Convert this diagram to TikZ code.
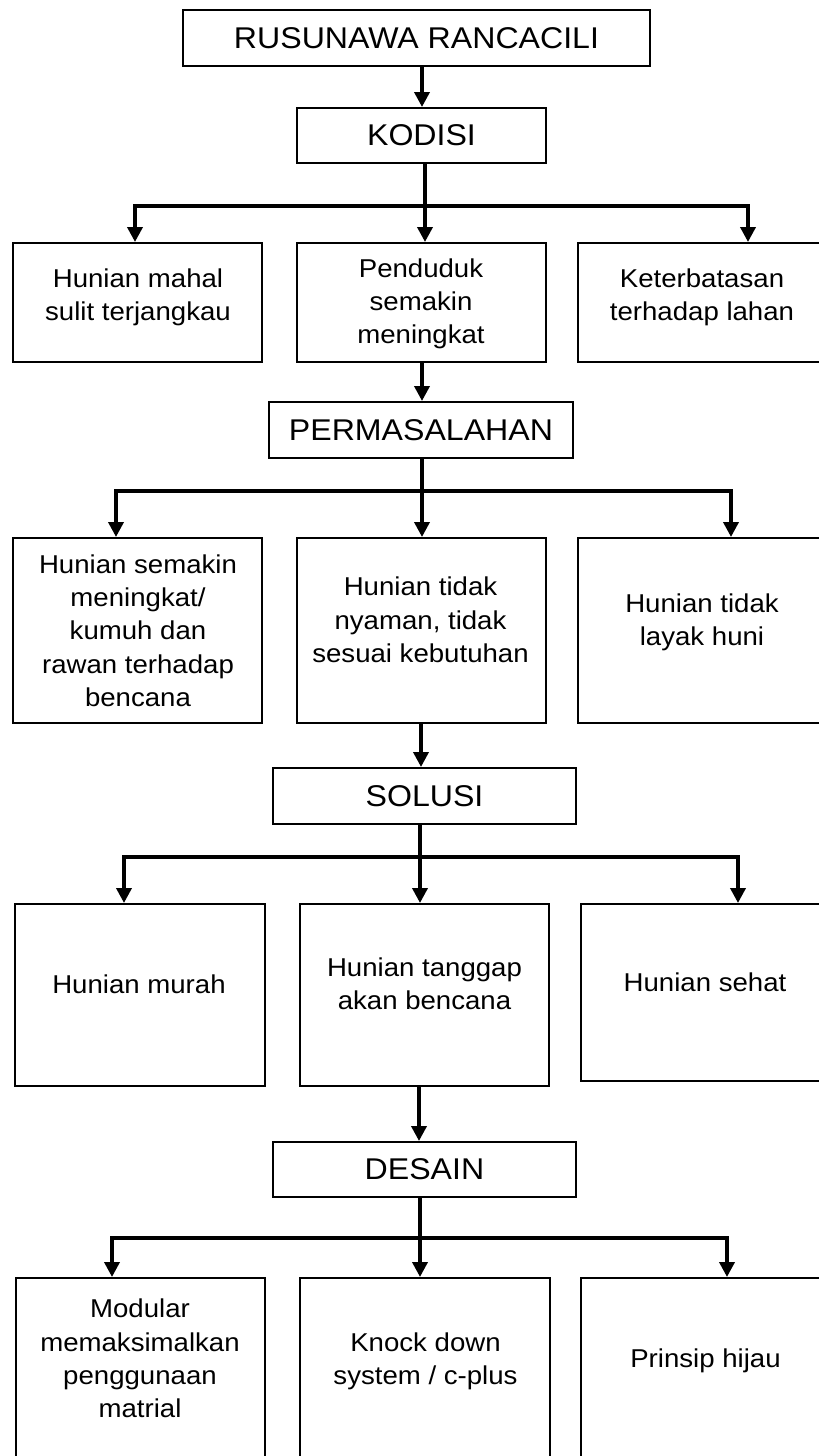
\documentclass[tikz,border=0pt]{standalone}
\usepackage{fontspec}
\setmainfont{Liberation Sans}[FakeStretch=1.07]
\usetikzlibrary{arrows.meta}
\begin{document}
\begin{tikzpicture}[x=1pt,y=-1pt,
  hbox/.style={draw,line width=2pt,rectangle,inner sep=0pt,font=\fontsize{30}{36}\selectfont},
  cbox/.style={draw,line width=2pt,rectangle,inner sep=0pt},
  txt/.style={inner sep=0pt,align=center,font=\fontsize{25.8}{33.3}\selectfont},
  conn/.style={line width=3.6pt,line join=miter},
  arr/.style={line width=3.6pt,line join=miter,-{Triangle[length=15pt,width=15pt]}}]
\useasboundingbox (0,0) rectangle (819,1456);
\clip (0,0) rectangle (819,1456);
\fill[white] (0,0) rectangle (819,1456);

% header boxes
\node[hbox,minimum width=467,minimum height=56] (title) at (416.5,38) {RUSUNAWA RANCACILI};
\node[hbox,minimum width=249,minimum height=55] (kodisi) at (421.5,135.5) {KODISI};
\node[hbox,minimum width=304,minimum height=56] (perm) at (421,430) {PERMASALAHAN};
\node[hbox,minimum width=303,minimum height=56] (solusi) at (424.5,796) {SOLUSI};
\node[hbox,minimum width=303,minimum height=55] (desain) at (424.5,1169.5) {DESAIN};

% row 1
\node[cbox,minimum width=249.5,minimum height=119] (r1l) at (137.25,302.5) {};
\node[cbox,minimum width=249,minimum height=119] (r1m) at (421.5,302.5) {};
\node[cbox,minimum width=251,minimum height=119] (r1r) at (703.5,302.5) {};
\node[txt] (t1l) at (138,297) {Hunian mahal\\sulit terjangkau};
\node[txt] (t1m) at (421,304) {Penduduk\\semakin\\meningkat};
\node[txt] (t1r) at (702,297) {Keterbatasan\\terhadap lahan};

% row 2
\node[cbox,minimum width=249.5,minimum height=185] (r2l) at (137.25,630.5) {};
\node[cbox,minimum width=249,minimum height=185] (r2m) at (421.5,630.5) {};
\node[cbox,minimum width=251,minimum height=185] (r2r) at (703.5,630.5) {};
\node[txt] (t2l) at (138,630.5) {Hunian semakin\\meningkat/\\kumuh dan\\rawan terhadap\\bencana};
\node[txt] (t2m) at (420.5,620) {Hunian tidak\\nyaman, tidak\\sesuai kebutuhan};
\node[txt] (t2r) at (702,622.5) {Hunian tidak\\layak huni};

% row 3
\node[cbox,minimum width=250,minimum height=182] (r3l) at (140,995) {};
\node[cbox,minimum width=249,minimum height=182] (r3m) at (424.5,995) {};
\node[cbox,minimum width=248,minimum height=177] (r3r) at (705,992.5) {};
\node[txt] (t3l) at (139,984) {Hunian murah};
\node[txt] (t3m) at (424.5,984) {Hunian tanggap\\akan bencana};
\node[txt] (t3r) at (705,982) {Hunian sehat};

% row 4
\node[cbox,minimum width=249,minimum height=201] (r4l) at (140.5,1378.5) {};
\node[cbox,minimum width=250,minimum height=201] (r4m) at (425,1378.5) {};
\node[cbox,minimum width=248,minimum height=201] (r4r) at (705,1378.5) {};
\node[txt] (t4l) at (140,1358.5) {Modular\\memaksimalkan\\penggunaan\\matrial};
\node[txt] (t4m) at (425.5,1361) {Knock down\\system / c-plus};
\node[txt] (t4r) at (705.5,1360.5) {Prinsip hijau};

% junctions
\coordinate (j1) at (425,206);
\coordinate (j2) at (422,491);
\coordinate (j3) at (420,857);
\coordinate (j4) at (420,1238);

% connectors
\draw[arr] (title.south -| 422,0) -- (kodisi.north -| 422,0);
\draw[conn] (kodisi.south -| j1) -- (j1);
\draw[arr] (j1) -- (j1 |- r1m.north);
\draw[arr] (j1) -| ([xshift=123.5pt]r1l.north west);
\draw[arr] (j1) -| ([xshift=171pt]r1r.north west);

\draw[arr] (r1m.south -| 422,0) -- (perm.north -| 422,0);
\draw[conn] (perm.south -| j2) -- (j2);
\draw[arr] (j2) -- (j2 |- r2m.north);
\draw[arr] (j2) -| ([xshift=104.5pt]r2l.north west);
\draw[arr] (j2) -| ([xshift=154pt]r2r.north west);

\draw[arr] (r2m.south -| 421,0) -- (solusi.north -| 421,0);
\draw[conn] (solusi.south -| j3) -- (j3);
\draw[arr] (j3) -- (j3 |- r3m.north);
\draw[arr] (j3) -| ([xshift=110pt]r3l.north west);
\draw[arr] (j3) -| ([xshift=158pt]r3r.north west);

\draw[arr] (r3m.south -| 419,0) -- (desain.north -| 419,0);
\draw[conn] (desain.south -| j4) -- (j4);
\draw[arr] (j4) -- (j4 |- r4m.north);
\draw[arr] (j4) -| ([xshift=97pt]r4l.north west);
\draw[arr] (j4) -| ([xshift=147pt]r4r.north west);
\end{tikzpicture}
\end{document}
